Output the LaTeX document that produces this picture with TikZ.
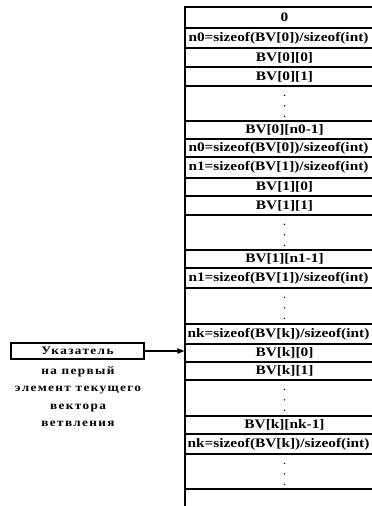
\documentclass[tikz,border=0pt]{standalone}
\usepackage{fontspec}
\setmainfont{Liberation Serif}
\newfontfamily\cellfont{Liberation Serif}[FakeStretch=1.18]
\newfontfamily\labfont{Liberation Serif}[FakeStretch=1.15,LetterSpace=12]
\usetikzlibrary{arrows.meta}
\tikzset{
  cell/.style={draw, line width=1.4pt, minimum width=199pt, inner sep=0pt,
    font=\cellfont\bfseries\fontsize{13pt}{15pt}\selectfont},
  ptrbox/.style={draw, line width=1.4pt, minimum width=133pt, minimum height=16pt,
    inner sep=0pt, font=\labfont\bfseries\fontsize{11.5pt}{13pt}\selectfont},
  caption/.style={align=center, inner sep=0pt,
    font=\labfont\bfseries\fontsize{11.5pt}{17.5pt}\selectfont},
  dotmark/.style={fill=black},
  ptrarrow/.style={line width=1.2pt, -{Triangle[length=7pt,width=5.5pt]}}
}
\newcommand{\cellat}[4]{% name, top, bottom, text
  \pgfmathsetmacro{\cy}{(#2+#3)/2}%
  \pgfmathsetmacro{\ch}{#3-#2}%
  \node[cell, minimum height=\ch pt] (#1) at (284.5,\cy) {#4};}
\newcommand{\longtext}[1]{\hspace*{-12pt}#1}
\newcommand{\dotcell}[3]{% name, top, bottom
  \cellat{#1}{#2}{#3}{}%
  \fill[dotmark] ([yshift=-10pt]#1.north) circle (0.8pt);
  \fill[dotmark] ([yshift=-20.5pt]#1.north) circle (0.8pt);
  \fill[dotmark] ([yshift=-31pt]#1.north) circle (0.8pt);}
\begin{document}
\begin{tikzpicture}[x=1pt,y=-1pt]
\clip (0,0) rectangle (372,506);
\fill[white] (0,0) rectangle (372,506);
\cellat{c0}{7}{28}{0}
\cellat{c1}{28}{48}{\longtext{n0=sizeof(BV[0])/sizeof(int)}}
\cellat{c2}{48}{67}{BV[0][0]}
\cellat{c3}{67}{86}{BV[0][1]}
\dotcell{c4}{86}{121}
\cellat{c5}{121}{139}{BV[0][n0-1]}
\cellat{c6}{139}{157}{\longtext{n0=sizeof(BV[0])/sizeof(int)}}
\cellat{c7}{157}{178}{\longtext{n1=sizeof(BV[1])/sizeof(int)}}
\cellat{c8}{178}{196}{BV[1][0]}
\cellat{c9}{196}{215}{BV[1][1]}
\dotcell{c10}{215}{250}
\cellat{c11}{250}{268}{BV[1][n1-1]}
\cellat{c12}{268}{288}{\longtext{n1=sizeof(BV[1])/sizeof(int)}}
\dotcell{c13}{288}{324}
\cellat{c14}{324}{344}{\longtext{nk=sizeof(BV[k])/sizeof(int)}}
\cellat{c15}{344}{362}{BV[k][0]}
\cellat{c16}{362}{380}{BV[k][1]}
\dotcell{c17}{380}{416}
\cellat{c18}{416}{434}{BV[k][nk-1]}
\cellat{c19}{434}{454}{\longtext{nk=sizeof(BV[k])/sizeof(int)}}
\dotcell{c20}{454}{489}
\cellat{c21}{489}{515}{}
\node[ptrbox] (ptr) at (77.5,351) {Указатель};
\node[caption, anchor=north] (cap) at (78,366) {на первый\\элемент текущего\\вектора\\ветвления};
\draw[ptrarrow] (ptr.east) -- (ptr.east -| c15.west);
\end{tikzpicture}
\end{document}
